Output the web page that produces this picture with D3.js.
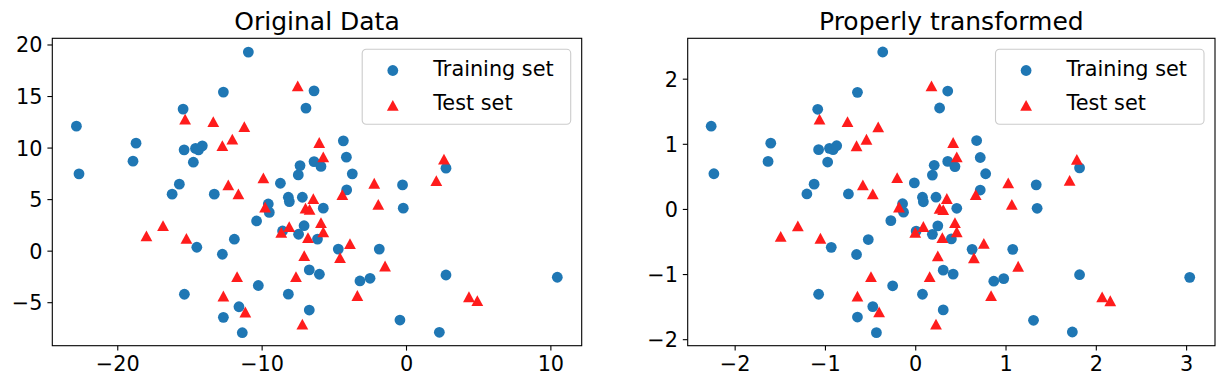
<!DOCTYPE html>
<html>
<head>
<meta charset="utf-8">
<script src="https://cdn.jsdelivr.net/npm/d3@7"></script>
<style>
	body { margin: 0; background: #fff; }
	text { font-family: "DejaVu Sans", sans-serif; fill: #000; }
</style>
</head>
<body>
<div id="chart"></div>
<script>
// values
const origTrainX = [-22.83, -22.65, -10.92, -12.65, -15.44, -18.70, -18.91, -15.37, -14.58, -14.37, -14.11, -14.73, -15.70, -16.20, -13.28, -8.70, -7.34, -7.46, -8.15, -8.08, -9.54, -7.18, -6.37, -6.93, -4.34, -4.13, -3.72, -4.11, -0.24, -0.19, 2.77, -6.37, -5.89, -5.73, -9.47, -10.35, -8.55, -7.44, -11.89, -14.49, -12.72, -10.23, -15.35, -8.15, -11.57, -12.65, -11.34, -7.06, -6.13, -4.69, -1.85, -6.70, -6.00, -3.19, -2.49, 2.77, 10.48, -6.70, -0.42, 2.31];
const origTrainY = [12.08, 7.45, 19.26, 15.38, 13.73, 10.43, 8.68, 9.78, 9.92, 9.78, 10.17, 8.58, 6.45, 5.48, 5.48, 6.54, 8.25, 7.35, 5.18, 4.76, 4.53, 5.18, 15.50, 13.83, 10.65, 9.07, 7.45, 5.89, 6.38, 4.12, 8.00, 8.64, 8.17, 4.12, 3.71, 2.88, 1.91, 1.59, 1.11, 0.33, -0.35, -3.38, -4.23, -4.22, -5.44, -6.47, -7.96, 2.42, 1.12, 0.15, 0.15, -1.87, -2.29, -2.94, -2.68, -2.36, -2.58, -5.76, -6.73, -7.92];
const origTestX = [-15.30, -13.35, -11.20, -12.03, -12.72, -7.50, -9.88, -12.31, -11.61, -9.76, -6.01, -5.73, 2.63, 2.10, -2.20, -4.41, -6.42, -1.92, -6.96, -6.68, -17.98, -16.83, -15.21, -8.64, -8.09, -11.70, -12.65, -11.13, -7.62, -7.18, -5.89, -5.73, -6.79, -7.05, -4.57, -3.88, -1.45, -3.37, 4.36, 4.94];
const origTestY = [12.76, 12.52, 12.04, 10.82, 10.19, 15.99, 7.06, 6.38, 5.50, 4.22, 10.49, 9.10, 8.87, 6.80, 6.54, 5.43, 5.05, 4.49, 4.12, 4.00, 1.43, 2.43, 1.20, 1.77, 2.33, -2.52, -4.40, -5.95, -2.52, -7.12, 2.71, 1.82, 1.26, -0.49, -0.68, 0.68, -1.49, -4.35, -4.47, -4.85];

const scaledTrainX = [-2.26, -2.23, -0.36, -0.64, -1.08, -1.60, -1.63, -1.07, -0.95, -0.91, -0.87, -0.97, -1.12, -1.20, -0.74, -0.01, 0.21, 0.19, 0.08, 0.09, -0.14, 0.23, 0.36, 0.27, 0.68, 0.72, 0.78, 0.72, 1.34, 1.35, 1.82, 0.36, 0.44, 0.46, -0.13, -0.27, 0.01, 0.19, -0.52, -0.93, -0.65, -0.25, -1.07, 0.08, -0.47, -0.64, -0.43, 0.25, 0.40, 0.63, 1.08, 0.31, 0.42, 0.87, 0.98, 1.82, 3.04, 0.31, 1.31, 1.74];
const scaledTrainY = [1.27, 0.54, 2.41, 1.79, 1.53, 1.01, 0.73, 0.91, 0.93, 0.91, 0.97, 0.72, 0.38, 0.23, 0.23, 0.40, 0.67, 0.52, 0.18, 0.11, 0.08, 0.18, 1.81, 1.55, 1.05, 0.79, 0.54, 0.29, 0.37, 0.01, 0.63, 0.73, 0.65, 0.01, -0.05, -0.18, -0.34, -0.39, -0.47, -0.59, -0.70, -1.18, -1.31, -1.31, -1.50, -1.66, -1.90, -0.26, -0.46, -0.62, -0.62, -0.94, -1.00, -1.11, -1.07, -1.01, -1.05, -1.55, -1.71, -1.89];
const scaledTestX = [-1.06, -0.75, -0.41, -0.54, -0.65, 0.18, -0.20, -0.58, -0.47, -0.18, 0.42, 0.46, 1.79, 1.71, 1.03, 0.67, 0.35, 1.07, 0.27, 0.31, -1.49, -1.30, -1.05, 0.00, 0.09, -0.49, -0.64, -0.40, 0.16, 0.23, 0.44, 0.46, 0.30, 0.25, 0.65, 0.76, 1.14, 0.84, 2.07, 2.16];
const scaledTestY = [1.38, 1.34, 1.26, 1.07, 0.97, 1.89, 0.48, 0.37, 0.23, 0.03, 1.02, 0.80, 0.76, 0.44, 0.40, 0.22, 0.16, 0.07, 0.01, -0.01, -0.42, -0.26, -0.45, -0.36, -0.27, -1.04, -1.34, -1.58, -1.04, -1.77, -0.21, -0.35, -0.44, -0.72, -0.75, -0.53, -0.88, -1.33, -1.35, -1.41];

const titles = ["Original Data", "Properly transformed"];
const seriesNames = ["Training set", "Test set"];
const origXTicks = [-20, -10, 0, 10];
const origYTicks = [-5, 0, 5, 10, 15, 20];
const scaledXTicks = [-2, -1, 0, 1, 2, 3];
const scaledYTicks = [-2, -1, 0, 1, 2];
const origXDomain = [-24.5, 12.17];
const origYDomain = [-9.22, 20.6];
const scaledXDomain = [-2.52, 3.32];
const scaledYDomain = [-2.1, 2.62];

const width = 1224;
const height = 389;
const blue = "#1f77b4";
const red = "#ff1c1c";
const fontSize = 20.8;

const svg = d3
	.select("#chart")
	.append("svg")
	.attr("width", width)
	.attr("height", height)
	.style("display", "block");

svg.append("rect").attr("width", width).attr("height", height).attr("fill", "#fff");

// matplotlib-style '^' centred on its bounding box
const triangle = (cx, cy) => {
	const hw = 5.9, hh = 5.4;
	return `M${cx},${cy - hh}L${cx + hw},${cy + hh}L${cx - hw},${cy + hh}Z`;
};

const fmt = d3.format("d");

function panel(opts) {
	const { left, right, top, bottom } = opts.box;
	const x = d3.scaleLinear().domain(opts.xDomain).range([left, right]);
	const y = d3.scaleLinear().domain(opts.yDomain).range([bottom, top]);
	const g = svg.append("g");

	// points
	g.selectAll("circle.train")
		.data(d3.zip(opts.trainX, opts.trainY))
		.join("circle")
		.attr("class", "train")
		.attr("cx", d => x(d[0]))
		.attr("cy", d => y(d[1]))
		.attr("r", 5.4)
		.attr("fill", blue);

	g.selectAll("path.test")
		.data(d3.zip(opts.testX, opts.testY))
		.join("path")
		.attr("class", "test")
		.attr("d", d => triangle(x(d[0]), y(d[1])))
		.attr("fill", red);

	// axes
	const xAxis = g
		.append("g")
		.attr("transform", `translate(0,${bottom})`)
		.call(d3.axisBottom(x).tickValues(opts.xTicks).tickFormat(fmt).tickSizeOuter(0).tickSize(4.9).tickPadding(4.9));
	const yAxis = g
		.append("g")
		.attr("transform", `translate(${left},0)`)
		.call(d3.axisLeft(y).tickValues(opts.yTicks).tickFormat(fmt).tickSizeOuter(0).tickSize(4.9).tickPadding(4.9));

	[xAxis, yAxis].forEach(a => {
		a.select(".domain").remove();
		a.selectAll(".tick line").attr("stroke", "#000").attr("stroke-width", 1.1);
		a.selectAll(".tick text")
			.style("font-family", "DejaVu Sans")
			.style("font-size", fontSize + "px")
			.attr("fill", "#000");
	});
	xAxis.selectAll(".tick text").attr("dy", "0.74em");
	yAxis.selectAll(".tick text").attr("dy", "0.36em");

	g.append("rect")
		.attr("x", left)
		.attr("y", top)
		.attr("width", right - left)
		.attr("height", bottom - top)
		.attr("fill", "none")
		.attr("stroke", "#000")
		.attr("stroke-width", 1.1);

	// title
	g.append("text")
		.attr("x", (left + right) / 2)
		.attr("y", top - 8.3)
		.attr("text-anchor", "middle")
		.style("font-size", "25px")
		.text(opts.title);

	// legend
	const lx = right - 219.5;
	const ly = top + 11;
	const leg = g.append("g").attr("transform", `translate(${lx},${ly})`);
	leg.append("rect")
		.attr("width", 208.5)
		.attr("height", 75)
		.attr("rx", 4)
		.attr("fill", "#fff")
		.attr("fill-opacity", 0.8)
		.attr("stroke", "#cccccc")
		.attr("stroke-width", 1.1);
	leg.append("circle").attr("cx", 30.6).attr("cy", 21.2).attr("r", 5.4).attr("fill", blue);
	leg.append("path").attr("d", triangle(30.6, 56)).attr("fill", red);
	leg.selectAll("text")
		.data(seriesNames)
		.join("text")
		.attr("x", 71)
		.attr("y", (d, i) => 26.5 + i * 34.5)
		.style("font-size", fontSize + "px")
		.text(d => d);
}

panel({
	box: { left: 52.3, right: 581.7, top: 38.3, bottom: 345.7 },
	xDomain: origXDomain,
	yDomain: origYDomain,
	xTicks: origXTicks,
	yTicks: origYTicks,
	trainX: origTrainX,
	trainY: origTrainY,
	testX: origTestX,
	testY: origTestY,
	title: titles[0],
});

panel({
	box: { left: 687.7, right: 1215, top: 38.3, bottom: 345.7 },
	xDomain: scaledXDomain,
	yDomain: scaledYDomain,
	xTicks: scaledXTicks,
	yTicks: scaledYTicks,
	trainX: scaledTrainX,
	trainY: scaledTrainY,
	testX: scaledTestX,
	testY: scaledTestY,
	title: titles[1],
});
</script>
</body>
</html>
